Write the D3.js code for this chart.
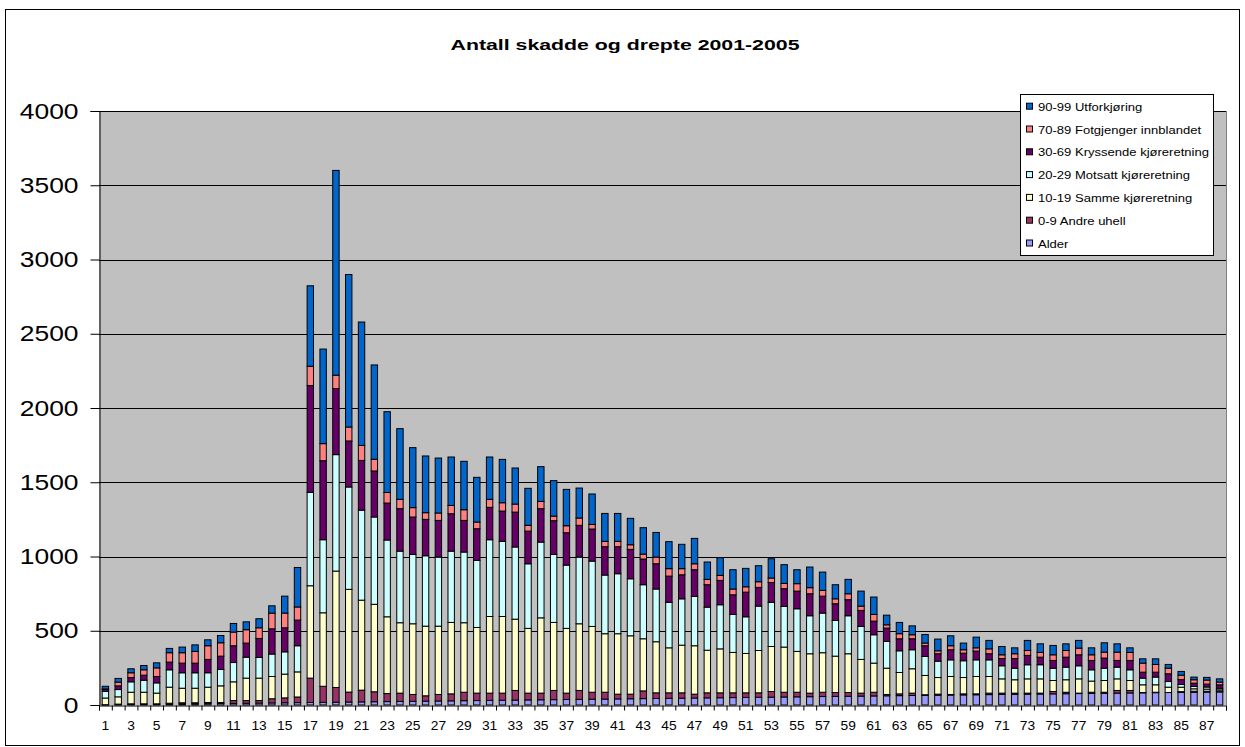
<!DOCTYPE html>
<html>
<head>
<meta charset="utf-8">
<script src="https://cdn.jsdelivr.net/npm/d3@7"></script>
<style>
  body { margin: 0; background: #fff; }
  svg { display: block; }
  text { font-family: Arial, "Liberation Sans", sans-serif; fill: #000; }
</style>
</head>
<body>
<svg id="chart" width="1245" height="747"></svg>
<script>
// Age 1..88, persons injured or killed 2001-2005, split by accident type code
const categories = [1,2,3,4,5,6,7,8,9,10,11,12,13,14,15,16,17,18,19,20,21,22,23,24,25,26,27,28,29,30,
  31,32,33,34,35,36,37,38,39,40,41,42,43,44,45,46,47,48,49,50,51,52,53,54,55,56,57,58,59,60,
  61,62,63,64,65,66,67,68,69,70,71,72,73,74,75,76,77,78,79,80,81,82,83,84,85,86,87,88];

const alder = [1,2,3,4,5,6,7,8,9,10,11,12,13,14,15,16,17,18,19,20,21,22,23,24,25,26,27,28,29,30,
  31,32,33,34,35,36,37,38,39,40,41,42,43,44,45,46,47,48,49,50,51,52,53,54,55,56,57,58,59,60,
  61,62,63,64,65,66,67,68,69,70,71,72,73,74,75,76,77,78,79,80,81,82,83,84,85,86,87,88];

const andreUhell = [1,4,5,4,3,6,8,7,8,7, 19,18,17,28,33,38,164,108,99,67,
  79,67,54,56,46,36,44,47,57,50, 49,48,65,46,45,62,43,60,47,46,
  32,31,52,38,37,36,26,34,33,32, 31,30,38,32,31,24,29,26,25,20,
  25,9,12,16,4,7,4,7,6,10, 9,8,7,6,16,10,3,8,7,18, 17,2,3,0,5,7,6,5];

const sammeRetning = [45,49,78,78,72,108,98,98,103,112, 126,151,151,150,160,169,622,495,784,692,
  606,589,517,474,476,469,460,481,468,442, 516,516,480,436,507,458,436,449,443,394,
  407,393,351,344,303,321,326,287,296,272, 265,285,303,304,275,265,266,245,261,227,
  196,177,144,164,130,112,121,110,117,112, 96,90,96,96,74,84,96,75,79,78, 67,52,50,36,30,16,14,9];

const motsattRetning = [45,49,70,81,69,117,104,104,97,110, 130,141,139,151,150,176,629,492,784,689,
  606,588,517,482,467,474,465,480,476,452, 517,506,486,435,510,458,426,449,440,395,
  404,384,364,355,306,312,332,290,297,256, 247,299,297,274,287,256,267,240,256,222,
  191,180,146,128,128,110,112,113,112,112, 88,78,95,95,83,85,88,76,83,79, 72,45,52,38,18,16,14,11];

const kryssende = [14,25,29,34,43,52,65,65,90,90, 113,95,128,170,162,173,719,532,445,310,
  335,310,249,286,252,245,247,252,213,213, 218,204,235,220,225,227,218,214,216,191,
  182,198,173,170,177,162,180,151,164,132, 166,126,134,119,119,148,114,113,108,108,
  92,90,81,74,72,50,68,51,59,41, 49,65,63,51,52,67,74,63,68,45, 63,40,33,52,33,22,20,23];

const fotgjenger = [2,25,32,36,58,63,70,79,92,90, 92,90,72,106,99,88,130,115,90,94,
  101,79,71,63,63,45,50,56,72,45, 54,56,54,39,49,31,47,49,31,36,
  36,31,33,45,50,41,40,36,34,39, 36,38,30,36,50,41,39,33,40,29,
  45,22,34,27,18,20,27,23,22,33, 25,32,33,32,38,45,45,38,40,56, 54,61,52,38,30,23,27,18];

const utforkjoring = [18,25,27,29,34,29,38,44,40,49, 58,53,61,49,114,266,542,637,1379,1027,
  831,635,544,476,404,382,370,326,326,301, 285,292,243,249,234,239,245,202,205,188,
  188,178,178,166,182,164,171,117,119,130, 124,108,130,126,94,139,123,95,97,101,
  117,65,76,60,58,79,67,45,72,57, 56,40,68,58,63,45,52,47,63,56, 31,29,38,25,25,18,18,22];

// Series in stacking order (bottom to top)
const seriesNames = ["Alder", "0-9 Andre uhell", "10-19 Samme kjøreretning", "20-29 Motsatt kjøreretning",
  "30-69 Kryssende kjøreretning", "70-89 Fotgjenger innblandet", "90-99 Utforkjøring"];
const seriesValues = [alder, andreUhell, sammeRetning, motsattRetning, kryssende, fotgjenger, utforkjoring];
const seriesColors = ["#9999FF", "#993366", "#FFFFCC", "#CCFFFF", "#660066", "#FF8080", "#0066CC"];

const yTicks = [0, 500, 1000, 1500, 2000, 2500, 3000, 3500, 4000];
const xTickLabels = [1,3,5,7,9,11,13,15,17,19,21,23,25,27,29,31,33,35,37,39,41,43,45,
  47,49,51,53,55,57,59,61,63,65,67,69,71,73,75,77,79,81,83,85,87];

const title = "Antall skadde og drepte 2001-2005";

// ---- layout ----
const plot = { left: 99, right: 1226, top: 111, bottom: 705 };

const svg = d3.select("#chart");

// outer chart frame
svg.append("rect")
  .attr("x", 5.5).attr("y", 9.5).attr("width", 1234).attr("height", 736)
  .attr("fill", "#fff").attr("stroke", "#000").attr("stroke-width", 1);

const rows = categories.map((c, i) => {
  const r = { cat: c };
  seriesNames.forEach((s, k) => r[s] = seriesValues[k][i]);
  return r;
});

const x = d3.scaleBand()
  .domain(categories)
  .range([plot.left, plot.right])
  .paddingInner(0.5)
  .paddingOuter(0.25);

const xb = d3.scaleLinear().domain([0, categories.length]).range([plot.left, plot.right]);

const y = d3.scaleLinear().domain([0, 4000]).range([plot.bottom, plot.top]);

// plot background
svg.append("rect")
  .attr("x", plot.left).attr("y", plot.top)
  .attr("width", plot.right - plot.left).attr("height", plot.bottom - plot.top)
  .attr("fill", "#C0C0C0");

// horizontal gridlines
svg.append("g").selectAll("line")
  .data(yTicks.filter(t => t > 0))
  .join("line")
  .attr("x1", plot.left).attr("x2", plot.right)
  .attr("y1", d => Math.round(y(d)) + 0.5).attr("y2", d => Math.round(y(d)) + 0.5)
  .attr("stroke", "#000").attr("stroke-width", 1);

// right edge of plot area
svg.append("line")
  .attr("x1", plot.right + 0.5).attr("x2", plot.right + 0.5)
  .attr("y1", plot.top).attr("y2", plot.bottom)
  .attr("stroke", "#808080");

// stacked bars
const stacked = d3.stack().keys(seriesNames)(rows);

svg.append("g").selectAll("g")
  .data(stacked)
  .join("g")
  .attr("fill", (d, i) => seriesColors[i])
  .selectAll("rect")
  .data(d => d)
  .join("rect")
  .attr("x", d => x(d.data.cat))
  .attr("y", d => y(d[1]))
  .attr("width", x.bandwidth())
  .attr("height", d => Math.max(0, y(d[0]) - y(d[1])))
  .attr("stroke", "#000")
  .attr("stroke-width", 1);

// y axis
const yAxis = svg.append("g")
  .attr("transform", `translate(${plot.left + 0.5},0)`)
  .call(d3.axisLeft(y).tickValues(yTicks).tickSize(9).tickPadding(12).tickFormat(d3.format("d")));
yAxis.select(".domain").attr("stroke", "#000");
yAxis.selectAll(".tick line").attr("stroke", "#000");
yAxis.selectAll(".tick text")
  .attr("font-size", 22)
  .attr("x", 0)
  .attr("transform", "translate(-21,0) scale(1.2,1)");

// x axis: category boundary ticks
const xTicksAxis = svg.append("g")
  .attr("transform", `translate(0,${plot.bottom + 0.5})`)
  .call(d3.axisBottom(xb).tickValues(d3.range(0, categories.length + 1)).tickSize(5).tickFormat(""));
xTicksAxis.select(".domain").attr("stroke", "#000");
xTicksAxis.selectAll(".tick line").attr("stroke", "#000");

// x axis: labels on every second category
const xAxis = svg.append("g")
  .attr("transform", `translate(0,${plot.bottom})`)
  .call(d3.axisBottom(x).tickValues(xTickLabels).tickSize(0).tickPadding(16));
xAxis.select(".domain").remove();
xAxis.selectAll(".tick text")
  .attr("font-size", 12)
  .attr("transform", "scale(1.15,1)");

// title
svg.append("text")
  .attr("text-anchor", "middle")
  .attr("font-weight", "bold")
  .attr("font-size", 15)
  .attr("transform", "translate(625,50) scale(1.42,1)")
  .text(title);

// legend (top series first)
const legend = svg.append("g");
legend.append("rect")
  .attr("x", 1020.5).attr("y", 94.5).attr("width", 193).attr("height", 161)
  .attr("fill", "#fff").attr("stroke", "#000");

const legendOrder = d3.range(seriesNames.length).reverse();
const items = legend.selectAll("g.item")
  .data(legendOrder)
  .join("g")
  .attr("class", "item")
  .attr("transform", (k, j) => `translate(1026,${106.7 + j * 22.8})`);
items.append("rect")
  .attr("x", 0.5).attr("y", -3.5).attr("width", 6).attr("height", 6)
  .attr("fill", k => seriesColors[k]).attr("stroke", "#000");
items.append("text")
  .attr("x", 0).attr("y", 4)
  .attr("font-size", 11.6)
  .attr("transform", "translate(12,0) scale(1.125,1)")
  .text(k => seriesNames[k]);
</script>
</body>
</html>
